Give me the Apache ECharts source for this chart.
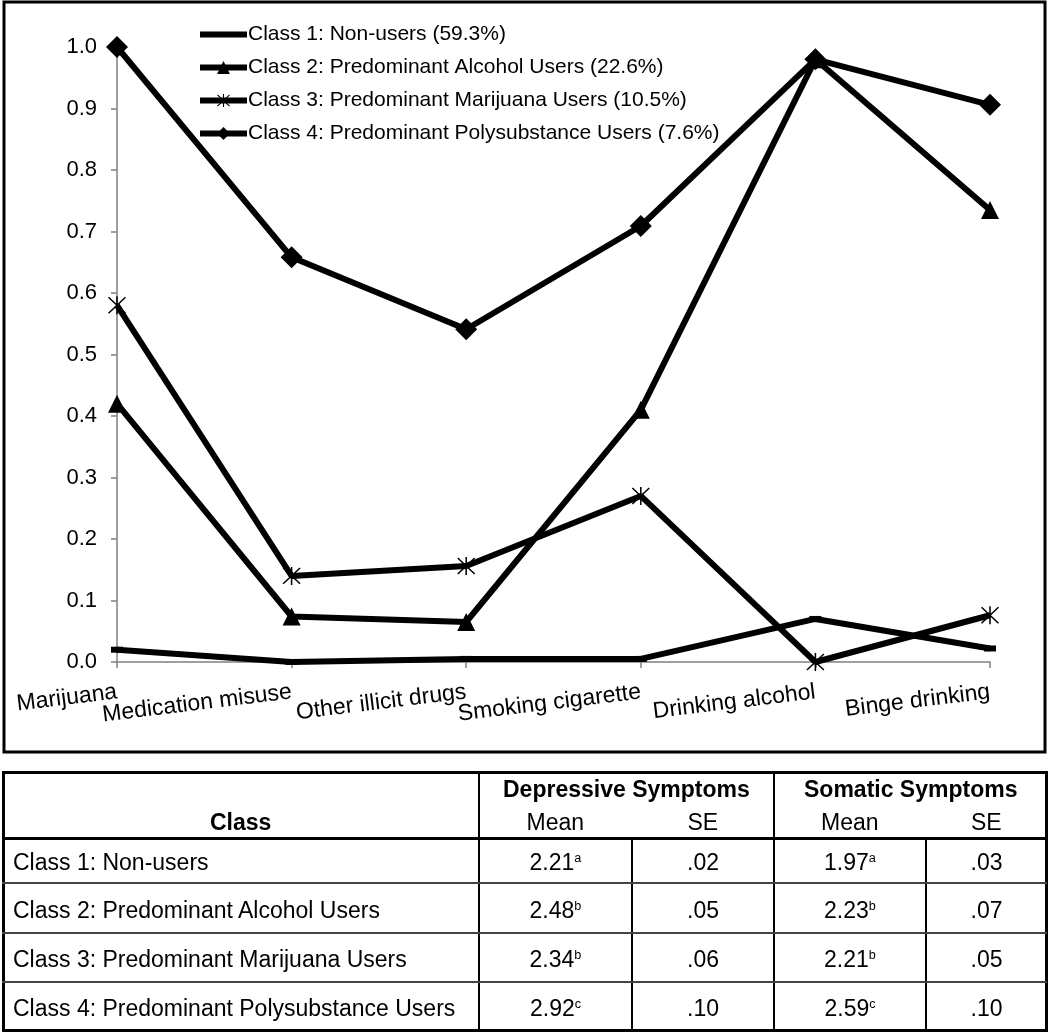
<!DOCTYPE html>
<html>
<head>
<meta charset="utf-8">
<script src="https://cdn.jsdelivr.net/npm/echarts@6/dist/echarts.min.js"></script>
<style>
  html, body { margin: 0; padding: 0; background: #fff; }
  #wrap { position: relative; width: 1050px; height: 1034px; overflow: hidden; }
  #chart { position: absolute; left: 0; top: 0; width: 1050px; height: 760px; }
  #table { position: absolute; left: 0; top: 0; width: 1050px; height: 1034px; pointer-events: none;
           font-family: 'Liberation Sans', Arial, sans-serif; color: #000; }
  .ln { position: absolute; background: #000; }
  .tx { position: absolute; white-space: nowrap; line-height: 1; }
  sup { font-size: 55%; vertical-align: 0.65em; line-height: 0; }
</style>
</head>
<body>
<div id="wrap">
  <div id="chart"></div>
  <div id="table"></div>
</div>
<script>
// ---- Data ----
const categories = ['Marijuana', 'Medication misuse', 'Other illicit drugs', 'Smoking cigarette', 'Drinking alcohol', 'Binge drinking'];
const seriesNames = [
  'Class 1: Non-users (59.3%)',
  'Class 2: Predominant Alcohol Users (22.6%)',
  'Class 3: Predominant Marijuana Users (10.5%)',
  'Class 4: Predominant Polysubstance Users (7.6%)'
];
const class1 = [0.02, 0.0, 0.005, 0.005, 0.07, 0.022];
const class2 = [0.42, 0.074, 0.065, 0.41, 0.98, 0.735];
const class3 = [0.58, 0.14, 0.156, 0.27, 0.0, 0.076];
const class4 = [1.0, 0.658, 0.541, 0.709, 0.98, 0.906];

// Table data
const tableClasses = ['Class 1: Non-users', 'Class 2: Predominant Alcohol Users', 'Class 3: Predominant Marijuana Users', 'Class 4: Predominant Polysubstance Users'];
const depMean = ['2.21', '2.48', '2.34', '2.92'];
const depSup = ['a', 'b', 'b', 'c'];
const depSE = ['.02', '.05', '.06', '.10'];
const somMean = ['1.97', '2.23', '2.21', '2.59'];
const somSup = ['a', 'b', 'b', 'c'];
const somSE = ['.03', '.07', '.05', '.10'];
const tableHeaders = ['Class', 'Depressive Symptoms', 'Somatic Symptoms', 'Mean', 'SE'];

// ---- Chart ----
const FONT = "'Liberation Sans', Arial, sans-serif";
const asterisk = 'path://M9.2,0 L10.8,0 L10.8,20 L9.2,20 Z M0.6,1.7 L1.7,0.6 L19.4,18.3 L18.3,19.4 Z M18.3,0.6 L19.4,1.7 L1.7,19.4 L0.6,18.3 Z';
const gray = '#808080';

const chart = echarts.init(document.getElementById('chart'), null, { renderer: 'canvas' });
const lineStyle = { color: '#000', width: 6 };
const option = {
  backgroundColor: '#fff',
  animation: false,
  textStyle: { fontFamily: FONT },
  grid: { left: 117, right: 60, top: 47, bottom: 98, containLabel: false, outerBoundsMode: 'none' },
  legend: {
    orient: 'vertical', left: 192, top: 19,
    itemWidth: 47, itemHeight: 16, itemGap: 12,
    selectedMode: false,
    textStyle: { fontSize: 21, color: '#000', fontFamily: FONT, lineHeight: 21, padding: [0, 0, 0, -4] },
    lineStyle: { width: 6 },
    data: [
      { name: seriesNames[0], itemStyle: { opacity: 0 } },
      seriesNames[1], seriesNames[2], seriesNames[3]
    ]
  },
  xAxis: {
    type: 'category', data: categories, boundaryGap: false,
    axisLine: { show: true, lineStyle: { color: gray, width: 1.5 } },
    axisTick: { show: true, length: 6, lineStyle: { color: gray, width: 1.5 }, alignWithLabel: true },
    axisLabel: { rotate: 7, margin: 30, fontSize: 23, color: '#000', fontFamily: FONT, interval: 0 },
    splitLine: { show: false }
  },
  yAxis: {
    type: 'value', min: 0, max: 1, interval: 0.1,
    axisLine: { show: true, lineStyle: { color: gray, width: 1.5 } },
    axisTick: { show: true, length: 6, lineStyle: { color: gray, width: 1.5 } },
    axisLabel: { fontSize: 22, color: '#000', fontFamily: FONT, margin: 20, formatter: v => v.toFixed(1) },
    splitLine: { show: false }
  },
  graphic: [{
    type: 'rect', shape: { x: 4, y: 2, width: 1041, height: 750 },
    style: { fill: 'none', stroke: '#000', lineWidth: 3 }, z: 100, silent: true
  }],
  series: [
    { name: seriesNames[0], type: 'line', data: class1, symbol: 'rect', symbolSize: [12, 6], lineStyle, itemStyle: { color: '#000' } },
    { name: seriesNames[1], type: 'line', data: class2, symbol: 'triangle', symbolSize: 18, lineStyle, itemStyle: { color: '#000' } },
    { name: seriesNames[2], type: 'line', data: class3, symbol: asterisk, symbolSize: 18, lineStyle, itemStyle: { color: '#000' } },
    { name: seriesNames[3], type: 'line', data: class4, symbol: 'diamond', symbolSize: 22, lineStyle, itemStyle: { color: '#000' } }
  ]
};
chart.setOption(option);

// ---- Table ----
const T = document.getElementById('table');
const TS = 23;
function line(x, y, w, h, color) {
  const d = document.createElement('div');
  d.className = 'ln';
  d.style.left = x + 'px'; d.style.top = y + 'px'; d.style.width = w + 'px'; d.style.height = h + 'px';
  if (color) d.style.background = color;
  T.appendChild(d);
}
function text(html, cx, cy, opts) {
  const d = document.createElement('div');
  d.className = 'tx';
  d.innerHTML = html;
  d.style.fontSize = (opts.size || TS) + 'px';
  if (opts.bold) d.style.fontWeight = 'bold';
  T.appendChild(d);
  const w = d.offsetWidth, h = d.offsetHeight;
  const x = opts.align === 'left' ? cx : cx - w / 2;
  d.style.left = x + 'px';
  d.style.top = (cy - h / 2) + 'px';
}
const colX = [2, 479, 632, 774, 926, 1047];
const rowY = [771, 838, 883, 933, 982, 1031];
// outer border
line(colX[0], rowY[0], colX[5] - colX[0], 3);
line(colX[0], rowY[5] - 2, colX[5] - colX[0] + 1, 3);
line(colX[0], rowY[0], 3, rowY[5] - rowY[0]);
line(colX[5] - 2, rowY[0], 3, rowY[5] - rowY[0]);
// header bottom
line(colX[0], rowY[1] - 1, colX[5] - colX[0], 3);
// vertical major dividers
line(colX[1] - 1, rowY[0], 2, rowY[5] - rowY[0]);
line(colX[3] - 1, rowY[0], 2, rowY[5] - rowY[0]);
// minor dividers only in body
line(colX[2] - 1, rowY[1], 2, rowY[5] - rowY[1]);
line(colX[4] - 1, rowY[1], 2, rowY[5] - rowY[1]);
// row lines
for (let i = 2; i <= 4; i++) line(colX[0], rowY[i] - 1, colX[5] - colX[0], 2, '#444');

// header text
text(tableHeaders[0], (colX[0] + colX[1]) / 2, 822, { bold: true });
text(tableHeaders[1], (colX[1] + colX[3]) / 2, 789, { bold: true });
text(tableHeaders[2], (colX[3] + colX[5]) / 2, 789, { bold: true });
text(tableHeaders[3], (colX[1] + colX[2]) / 2, 822, {});
text(tableHeaders[4], (colX[2] + colX[3]) / 2, 822, {});
text(tableHeaders[3], (colX[3] + colX[4]) / 2, 822, {});
text(tableHeaders[4], (colX[4] + colX[5]) / 2, 822, {});

for (let r = 0; r < 4; r++) {
  const cy = (rowY[r + 1] + rowY[r + 2]) / 2 + 2;
  text(tableClasses[r], 13, cy, { align: 'left' });
  text(depMean[r] + '<sup>' + depSup[r] + '</sup>', (colX[1] + colX[2]) / 2, cy, {});
  text(depSE[r], (colX[2] + colX[3]) / 2, cy, {});
  text(somMean[r] + '<sup>' + somSup[r] + '</sup>', (colX[3] + colX[4]) / 2, cy, {});
  text(somSE[r], (colX[4] + colX[5]) / 2, cy, {});
}
</script>
</body>
</html>
